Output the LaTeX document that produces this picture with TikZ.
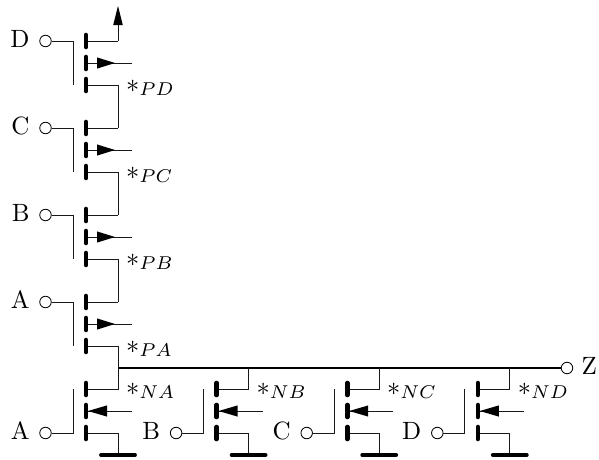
\documentclass[tikz,border=0pt]{standalone}
\usetikzlibrary{calc}
\tikzset{
  wire/.style={line width=0.95pt,black!90},
  bus/.style={line width=1.3pt,black},
  gatebar/.style={line width=4.6pt,line cap=round},
  pin/.style={circle,draw,line width=0.85pt,minimum size=11.5pt,inner sep=0pt,fill=white},
  txt/.style={inner sep=0pt,scale=2.5},
  mark label/.style={inner sep=0pt,anchor=base west,scale=2.65},
}
\begin{document}
\begin{tikzpicture}[x=1pt,y=-1pt]
\useasboundingbox (0,0) rectangle (599,459);
% PMOS stack
\foreach \n/\y/\lab in {D/41/PD,C/128/PC,B/215/PB,A/302/PA}{
  \coordinate (p\n g) at (86,\y);
  \coordinate (p\n b) at (86,\y+22);
  \coordinate (p\n d) at (86,\y+44);
  \coordinate (p\n s) at (118,\y);
  \coordinate (p\n e) at (118,\y+44);
  \coordinate (p\n i) at (73,\y);
  \coordinate (p\n j) at (73,\y+44);
  \coordinate (p\n t) at (132,\y+22);
  \node[pin] (p\n c) at (45.5,\y) {};
  \node[txt,anchor=base east] (p\n l) at (30,\y+6.5) {\n};
  \draw[wire] (p\n c) -- (p\n i) -- (p\n j);
  \draw[wire] (p\n g) -- (p\n s);
  \draw[wire] (p\n d) -- (p\n e);
  \draw[wire] (p\n b) -- (p\n t);
  \fill ($(p\n b)+(11,-5.6)$) -- ($(p\n b)+(11,5.6)$) -- ($(p\n b)+(29,0)$) -- cycle;
  \draw[gatebar] ($(p\n g)+(0,-6)$) -- ($(p\n g)+(0,6)$);
  \draw[gatebar] ($(p\n b)+(0,-6)$) -- ($(p\n b)+(0,6)$);
  \draw[gatebar] ($(p\n d)+(0,-6)$) -- ($(p\n d)+(0,6)$);
  \node[mark label] (p\n m) at (125.5,\y+51) {$*_{\lab}$};
}
% stack links
\draw[wire] (pDe) -- (pCs);
\draw[wire] (pCe) -- (pBs);
\draw[wire] (pBe) -- (pAs);
% supply arrow
\coordinate (vdd) at (118,6);
\draw[wire] (pDs) -- (118,22);
\fill (vdd) -- (113.2,25) -- (122.8,25) -- cycle;
% NMOS row
\coordinate (busL) at (118,368);
\node[pin] (zc) at (567,368) {};
\node[txt,anchor=base west] (zl) at (581,374.5) {Z};
\draw[bus] (busL) -- (zc);
\draw[wire] (pAe) -- (busL);
\foreach \n/\x/\lab in {A/0/NA,B/130.6/NB,C/261.2/NC,D/391.8/ND}{
  \coordinate (n\n g) at (86+\x,389);
  \coordinate (n\n b) at (86+\x,411);
  \coordinate (n\n d) at (86+\x,433);
  \coordinate (n\n s) at (118+\x,389);
  \coordinate (n\n u) at (118+\x,368);
  \coordinate (n\n e) at (118+\x,433);
  \coordinate (n\n f) at (118+\x,455);
  \coordinate (n\n i) at (73+\x,433);
  \coordinate (n\n j) at (73+\x,389);
  \coordinate (n\n t) at (132+\x,411);
  \node[pin] (n\n c) at (45.5+\x,433) {};
  \node[txt,anchor=base east] (n\n l) at (30+\x,439.5) {\n};
  \draw[wire] (n\n c) -- (n\n i) -- (n\n j);
  \draw[wire] (n\n u) -- (n\n s) -- (n\n g);
  \draw[wire] (n\n d) -- (n\n e) -- (n\n f);
  \draw[wire] (n\n b) -- (n\n t);
  \fill ($(n\n b)+(21,-5.6)$) -- ($(n\n b)+(21,5.6)$) -- ($(n\n b)+(2,0)$) -- cycle;
  \draw[line width=3.8pt,line cap=round] ($(n\n f)+(-17,0)$) -- ($(n\n f)+(17,0)$);
  \draw[gatebar] ($(n\n g)+(0,-6)$) -- ($(n\n g)+(0,6)$);
  \draw[gatebar] ($(n\n b)+(0,-6)$) -- ($(n\n b)+(0,6)$);
  \draw[gatebar] ($(n\n d)+(0,-6)$) -- ($(n\n d)+(0,6)$);
  \node[mark label] (n\n m) at (125.5+\x,395) {$*_{\lab}$};
}
\end{tikzpicture}
\end{document}
